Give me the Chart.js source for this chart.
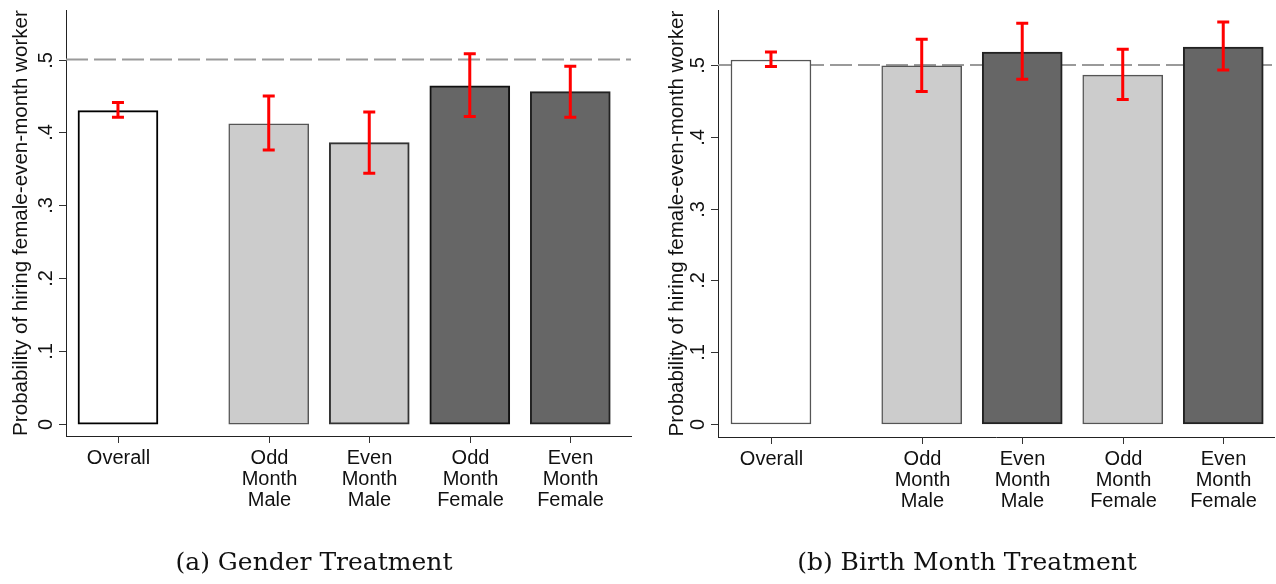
<!DOCTYPE html>
<html>
<head>
<meta charset="utf-8">
<script src="https://cdn.jsdelivr.net/npm/chart.js@4.4.1/dist/chart.umd.min.js"></script>
<style>
  body { margin: 0; background: #fff; width: 1276px; height: 584px; overflow: hidden; position: relative; }
  .panel { position: absolute; top: 0; width: 638px; height: 584px; }
  .cap { position: absolute; top: 547px; width: 638px; text-align: center;
         font-family: "DejaVu Serif", "Liberation Serif", serif; font-size: 25px; color: #111; line-height: 30px; }
</style>
</head>
<body>
<div class="panel" style="left:0"><canvas id="genderChart" width="638" height="584"></canvas></div>
<div class="panel" style="left:638px"><canvas id="birthChart" width="638" height="584"></canvas></div>
<div class="cap" style="left:-5px">(a) Gender Treatment</div>
<div class="cap" style="left:648px">(b) Birth Month Treatment</div>
<script>
// categories along the x axis (multi-line labels) and where they sit
const categories = [
    ["Overall"],
    ["Odd", "Month", "Male"],
    ["Even", "Month", "Male"],
    ["Odd", "Month", "Female"],
    ["Even", "Month", "Female"]
];
const positions = [0, 1.5, 2.5, 3.5, 4.5];

// (a) Gender Treatment
const genderMeans = [0.430, 0.412, 0.386, 0.464, 0.456];
const genderLow = [0.421, 0.376, 0.344, 0.422, 0.421];
const genderHigh = [0.441, 0.450, 0.428, 0.508, 0.491];

// (b) Birth Month Treatment
const birthMeans = [0.507, 0.499, 0.518, 0.486, 0.525];
const birthLow = [0.498, 0.463, 0.480, 0.452, 0.493];
const birthHigh = [0.518, 0.536, 0.558, 0.522, 0.560];

const yTicks = [0, 0.1, 0.2, 0.3, 0.4, 0.5];
const yTickLabels = ["0", ".1", ".2", ".3", ".4", ".5"];
const refLine = 0.5;
const yTitle = "Probability of hiring female-even-month worker";

const labelFont = '20px "Liberation Sans", Arial, Helvetica, sans-serif';
const titleFont = '20.6px "Liberation Sans", Arial, Helvetica, sans-serif';

const decorPlugin = {
    id: "decor",
    beforeDatasetsDraw(chart) {
        const { ctx, chartArea, scales: { y } } = chart;
        const yy = y.getPixelForValue(refLine);
        ctx.save();
        ctx.strokeStyle = "#9a9a9a";
        ctx.lineWidth = 2;
        ctx.setLineDash([22, 6]);
        ctx.beginPath();
        ctx.moveTo(chartArea.left, yy);
        ctx.lineTo(chartArea.right, yy);
        ctx.stroke();
        ctx.restore();
    },
    afterDatasetsDraw(chart) {
        const { ctx, scales: { x, y } } = chart;
        const ci = chart.options.plugins.decor;
        ctx.save();
        ctx.strokeStyle = "#ff0000";
        ctx.lineWidth = 3;
        ci.low.forEach((lo, i) => {
            const px = x.getPixelForValue(positions[i]);
            const y1 = y.getPixelForValue(lo);
            const y2 = y.getPixelForValue(ci.high[i]);
            ctx.beginPath();
            ctx.moveTo(px, y1); ctx.lineTo(px, y2);
            ctx.moveTo(px - 6, y1); ctx.lineTo(px + 6, y1);
            ctx.moveTo(px - 6, y2); ctx.lineTo(px + 6, y2);
            ctx.stroke();
        });
        ctx.restore();
    },
    afterDraw(chart) {
        const { ctx, chartArea, scales: { x, y } } = chart;
        const opt = chart.options.plugins.decor;
        ctx.save();
        ctx.strokeStyle = "#333";
        ctx.lineWidth = 1;
        ctx.fillStyle = "#111";
        ctx.font = labelFont;

        // y ticks, rotated labels
        yTicks.forEach((v, i) => {
            const py = Math.round(y.getPixelForValue(v)) + 0.5;
            ctx.beginPath();
            ctx.moveTo(chartArea.left - 7, py);
            ctx.lineTo(chartArea.left, py);
            ctx.stroke();
            ctx.save();
            ctx.translate(chartArea.left - 14, py);
            ctx.rotate(-Math.PI / 2);
            ctx.textAlign = "center";
            ctx.textBaseline = "alphabetic";
            ctx.fillText(yTickLabels[i], 0, 0);
            ctx.restore();
        });

        // y title
        ctx.save();
        ctx.font = titleFont;
        ctx.translate(opt.titleX, (chartArea.top + chartArea.bottom) / 2);
        ctx.rotate(-Math.PI / 2);
        ctx.textAlign = "center";
        ctx.textBaseline = "alphabetic";
        ctx.fillText(yTitle, 0, 0);
        ctx.restore();

        // x ticks and multi-line labels
        ctx.textAlign = "center";
        ctx.textBaseline = "alphabetic";
        positions.forEach((p, i) => {
            const px = Math.round(x.getPixelForValue(p)) + 0.5;
            ctx.beginPath();
            ctx.moveTo(px, chartArea.bottom);
            ctx.lineTo(px, chartArea.bottom + 7);
            ctx.stroke();
            categories[i].forEach((line, j) => {
                ctx.fillText(line, px, chartArea.bottom + 28 + j * 21);
            });
        });
        ctx.restore();
    }
};

function makePanel(id, means, low, high, fills, borders, widths, view) {
    const canvas = document.getElementById(id);
    return new Chart(canvas.getContext("2d"), {
        type: "bar",
        data: {
            datasets: [{
                data: positions.map((p, i) => ({ x: p, y: means[i] })),
                backgroundColor: fills,
                borderColor: borders,
                borderWidth: widths,
                borderSkipped: false,
                barThickness: 80
            }]
        },
        options: {
            responsive: false,
            animation: false,
            devicePixelRatio: 1,
            layout: { padding: { left: view.left, right: view.right, top: 10, bottom: view.bottom } },
            plugins: {
                legend: { display: false },
                tooltip: { enabled: false },
                decor: { low: low, high: high, titleX: view.titleX }
            },
            scales: {
                x: {
                    type: "linear",
                    offset: false,
                    min: view.xMin,
                    max: view.xMax,
                    grid: { display: false, drawTicks: false, tickLength: 0 },
                    ticks: { display: false },
                    border: { display: true, color: "#222", width: 1 }
                },
                y: {
                    min: view.yMin,
                    max: view.yMax,
                    grid: { display: false, drawTicks: false, tickLength: 0 },
                    ticks: { display: false },
                    border: { display: true, color: "#222", width: 1 }
                }
            }
        },
        plugins: [decorPlugin]
    });
}

makePanel("genderChart", genderMeans, genderLow, genderHigh,
    ["#ffffff", "#cccccc", "#cccccc", "#666666", "#666666"],
    ["#000000", "#555555", "#333333", "#111111", "#222222"],
    [2, 1.5, 2, 2, 2],
    { left: 66, right: 7, bottom: 148, xMin: -0.517, xMax: 5.104, yMin: -0.0164, yMax: 0.568, titleX: 27 });

makePanel("birthChart", birthMeans, birthLow, birthHigh,
    ["#ffffff", "#cccccc", "#666666", "#cccccc", "#666666"],
    ["#555555", "#555555", "#222222", "#555555", "#222222"],
    [1.5, 1.5, 2, 1.5, 2],
    { left: 80, right: 2, bottom: 147, xMin: -0.527, xMax: 5.005, yMin: -0.0181, yMax: 0.5766, titleX: 45 });
</script>
</body>
</html>
